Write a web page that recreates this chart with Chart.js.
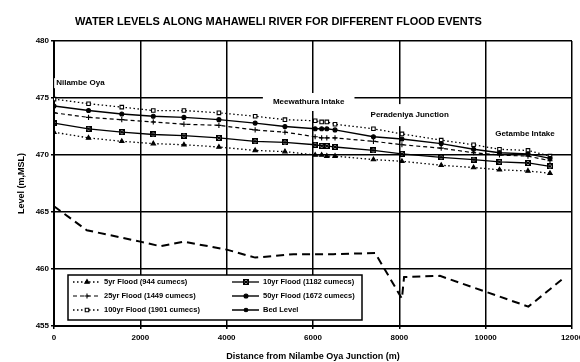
<!DOCTYPE html>
<html><head><meta charset="utf-8">
<script src="https://cdn.jsdelivr.net/npm/chart.js@4/dist/chart.umd.min.js"></script>
<style>html,body{margin:0;padding:0;background:#fff}#wrap{width:580px;height:362px}</style>
</head><body><div id="wrap"><canvas id="c" width="580" height="362"></canvas></div>
<script>
const titleText = 'WATER LEVELS ALONG MAHAWELI RIVER FOR DIFFERENT FLOOD EVENTS';
const xTitle = 'Distance from Nilambe Oya Junction (m)';
const yTitle = 'Level (m,MSL)';
const xTicks = [0, 2000, 4000, 6000, 8000, 10000, 12000];
const yTicks = [455, 460, 465, 470, 475, 480];
const chainage = [0, 800, 1570, 2300, 3010, 3820, 4660, 5350, 6050, 6200, 6320, 6510, 7400, 8060, 8970, 9720, 10320, 10980, 11490];
const flood5   = [472.0, 471.5, 471.2, 471.0, 470.9, 470.7, 470.4, 470.3, 470.0, 470.0, 469.9, 469.9, 469.6, 469.45, 469.1, 468.9, 468.7, 468.6, 468.4];
const flood10  = [472.8, 472.3, 472.0, 471.8, 471.7, 471.5, 471.2, 471.1, 470.9, 470.8, 470.8, 470.7, 470.4, 470.1, 469.8, 469.6, 469.4, 469.3, 469.0];
const flood25  = [473.7, 473.3, 473.1, 472.9, 472.7, 472.6, 472.2, 472.0, 471.6, 471.5, 471.5, 471.5, 471.2, 470.9, 470.6, 470.2, 470.0, 469.9, 469.5];
const flood50  = [474.3, 473.9, 473.6, 473.4, 473.3, 473.1, 472.8, 472.5, 472.3, 472.3, 472.3, 472.2, 471.6, 471.4, 471.0, 470.5, 470.2, 470.1, 469.7];
const flood100 = [474.9, 474.5, 474.2, 473.9, 473.9, 473.7, 473.4, 473.1, 473.0, 472.9, 472.9, 472.7, 472.3, 471.85, 471.3, 470.9, 470.5, 470.4, 469.9];
const bedChainage = [0, 760, 2000, 2460, 3000, 4000, 4660, 5550, 6470, 7440, 8060, 8110, 8940, 10990, 11840];
const bedLevel    = [465.5, 463.4, 462.4, 462.0, 462.4, 461.7, 461.0, 461.3, 461.3, 461.4, 457.4, 459.3, 459.4, 456.7, 459.3];
const seriesNames = ['5yr Flood (944 cumecs)', '10yr Flood (1182 cumecs)', '25yr Flood (1449 cumecs)', '50yr Flood (1672 cumecs)', '100yr Flood (1901 cumecs)', 'Bed Level'];
const placeNames = ['Nilambe Oya', 'Meewathura Intake', 'Peradeniya Junction', 'Getambe Intake'];
const placeChainage = [50, 5900, 8240, 10910];
const placeLevel = [476.3, 474.65, 473.5, 471.85];

const FONT = "'Liberation Sans', Arial, sans-serif";

function boxX() {
  const c = document.createElement('canvas'); c.width = 6; c.height = 6;
  const g = c.getContext('2d');
  g.strokeStyle = '#000'; g.lineWidth = 1.1;
  g.strokeRect(0.55, 0.55, 4.9, 4.9);
  g.beginPath(); g.moveTo(1, 1); g.lineTo(5, 5); g.moveTo(5, 1); g.lineTo(1, 5); g.stroke();
  return c;
}
const boxXImg = boxX();

function pts(xs, ys) { return xs.map((x, i) => ({ x: x, y: ys[i] })); }

const styles = [
  { dash: [1.5, 2.5], width: 1.3, point: 'triangle', radius: 2.5, bg: '#000' },
  { dash: [], width: 1.3, point: boxXImg, radius: 3, bg: '#000' },
  { dash: [4, 3], width: 1.2, point: 'cross', radius: 2.6, bg: '#000' },
  { dash: [], width: 1.4, point: 'circle', radius: 2, bg: '#000' },
  { dash: [1.5, 2.5], width: 1.3, point: 'rect', radius: 2.5, bg: '#fff' },
  { dash: [8, 5], width: 2, point: false, radius: 0, bg: '#000' }
];
const seriesData = [pts(chainage, flood5), pts(chainage, flood10), pts(chainage, flood25), pts(chainage, flood50), pts(chainage, flood100), pts(bedChainage, bedLevel)];

const datasets = seriesNames.map((name, i) => ({
  label: name,
  data: seriesData[i],
  borderColor: '#000',
  backgroundColor: styles[i].bg,
  borderWidth: styles[i].width,
  borderDash: styles[i].dash,
  pointStyle: styles[i].point,
  pointRadius: styles[i].radius,
  pointBorderWidth: 1.1,
  pointBorderColor: '#000',
  pointBackgroundColor: styles[i].bg,
  tension: 0,
  fill: false
}));

const titlePlugin = {
  id: 'topTitle',
  afterDraw(chart) {
    const ctx = chart.ctx;
    ctx.save();
    ctx.font = 'bold 11px ' + FONT;
    ctx.fillStyle = '#000';
    ctx.textAlign = 'center';
    ctx.textBaseline = 'middle';
    ctx.fillText(titleText, chart.width * 0.48, 22);
    ctx.restore();
  }
};

const placePlugin = {
  id: 'places',
  beforeDatasetsDraw(chart) {
    const ctx = chart.ctx, xs = chart.scales.x, ys = chart.scales.y;
    const padX = [2, 10, 2, 2], padY = [5, 9, 11, 5];
    ctx.save();
    ctx.font = 'bold 8px ' + FONT;
    ctx.textBaseline = 'middle';
    placeNames.forEach((t, i) => {
      const px = xs.getPixelForValue(placeChainage[i]);
      const py = ys.getPixelForValue(placeLevel[i]);
      const w = ctx.measureText(t).width;
      const left = i === 0 ? px : px - w / 2;
      ctx.fillStyle = '#fff';
      ctx.fillRect(left - padX[i], py - padY[i], w + 2 * padX[i], 2 * padY[i]);
      ctx.fillStyle = '#000';
      ctx.textAlign = 'left';
      ctx.fillText(t, left, py);
    });
    ctx.restore();
  }
};

const legendPlugin = {
  id: 'boxLegend',
  afterDatasetsDraw(chart) {
    const ctx = chart.ctx, a = chart.chartArea;
    const left = a.left + 14, right = a.left + 308, top = a.bottom - 51, bottom = a.bottom - 6;
    ctx.save();
    ctx.fillStyle = '#fff';
    ctx.fillRect(left, top, right - left, bottom - top);
    ctx.strokeStyle = '#000'; ctx.lineWidth = 1.5;
    ctx.strokeRect(left, top, right - left, bottom - top);
    chart.data.datasets.forEach((ds, i) => {
      const col = i % 2, row = Math.floor(i / 2);
      const x0 = left + 5 + col * 159;
      const y = top + 7 + row * 14;
      const isBed = i === 5;
      ctx.strokeStyle = '#000';
      ctx.lineWidth = isBed ? 1.5 : ds.borderWidth;
      ctx.setLineDash(isBed ? [] : ds.borderDash);
      ctx.beginPath(); ctx.moveTo(x0, y); ctx.lineTo(x0 + 27, y); ctx.stroke();
      ctx.setLineDash([]);
      const ps = isBed ? 'circle' : ds.pointStyle;
      const r = isBed ? 1.8 : ds.pointRadius;
      ctx.fillStyle = isBed ? '#000' : ds.pointBackgroundColor;
      ctx.lineWidth = 1.1;
      Chart.helpers.drawPoint(ctx, { pointStyle: ps, radius: r, borderWidth: 1.1, rotation: 0 }, x0 + 14, y);
      ctx.fillStyle = '#000';
      ctx.font = 'bold 7.5px ' + FONT;
      ctx.textAlign = 'left'; ctx.textBaseline = 'middle';
      ctx.fillText(ds.label, x0 + 31, y);
    });
    ctx.restore();
  }
};

new Chart(document.getElementById('c'), {
  type: 'line',
  data: { datasets: datasets },
  options: {
    responsive: false,
    animation: false,
    events: [],
    layout: { padding: { top: 41, right: 8, bottom: 0, left: 0 } },
    plugins: { legend: { display: false }, title: { display: false }, tooltip: { enabled: false } },
    scales: {
      x: {
        type: 'linear', min: 0, max: 12000,
        afterBuildTicks: s => { s.ticks = xTicks.map(v => ({ value: v })); },
        ticks: { color: '#000', font: { family: FONT, size: 8, weight: 'bold' }, padding: 4, maxRotation: 0, autoSkip: false, callback: v => String(v) },
        grid: { color: '#000', lineWidth: 1.5, tickLength: 3 },
        border: { color: '#000', width: 2 },
        title: { display: true, text: xTitle, color: '#000', font: { family: FONT, size: 9, weight: 'bold' }, padding: { top: 0, bottom: 0 } },
        afterFit: s => { s.height = 36; s.paddingLeft = 0; s.paddingRight = 0; }
      },
      y: {
        type: 'linear', min: 455, max: 480,
        afterBuildTicks: s => { s.ticks = yTicks.map(v => ({ value: v })); },
        ticks: { color: '#000', font: { family: FONT, size: 8, weight: 'bold' }, padding: 2, callback: v => String(v) },
        grid: { color: '#000', lineWidth: 1.5, tickLength: 3 },
        border: { color: '#000', width: 2 },
        title: { display: true, text: yTitle, color: '#000', font: { family: FONT, size: 9, weight: 'bold' }, padding: { top: 16, bottom: 0 } },
        afterFit: s => { s.width = 54; s.paddingTop = 0; s.paddingBottom = 0; }
      }
    }
  },
  plugins: [placePlugin, legendPlugin, titlePlugin]
});
</script>
</body></html>
